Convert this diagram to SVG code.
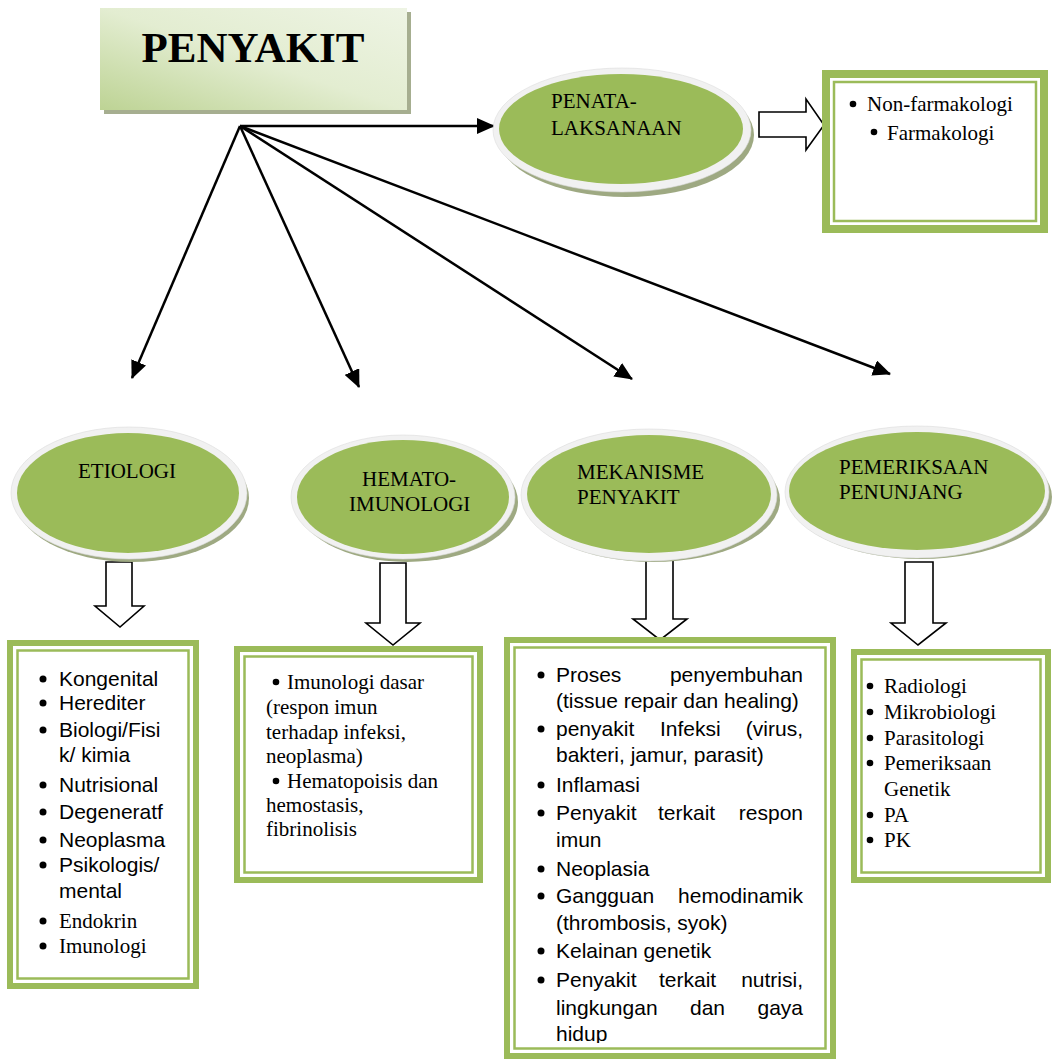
<svg xmlns="http://www.w3.org/2000/svg" width="1059" height="1061" viewBox="0 0 1059 1061">
<defs>
<style>
.sans{font-family:"Liberation Sans",Arial,sans-serif;font-size:21px;fill:#000}
.serif{font-family:"Liberation Serif","Times New Roman",serif;font-size:21px;fill:#000}
.ell{font-family:"Liberation Serif","Times New Roman",serif;font-size:21px;fill:#000}
.shadow{fill:#9ea982}
.ring{fill:#f1f1f1;stroke:#dcdcdc;stroke-width:0.6}
.green{fill:#9bbb59}
.bo{fill:#9bbb59}
.bw{fill:#fff}
.bl{fill:none;stroke:#9bbb59;stroke-width:2.5}
.conn{stroke:#000;stroke-width:2.5;fill:none}
.blk{fill:#fff;stroke:#000;stroke-width:1.6;stroke-linejoin:miter}
.dot{fill:#000}
</style>
<linearGradient id="gHead" x1="0" y1="1" x2="1" y2="0">
<stop offset="0" stop-color="#bdd394"/>
<stop offset="0.5" stop-color="#e3edd1"/>
<stop offset="1" stop-color="#eef4e4"/>
</linearGradient>
<marker id="ah" markerUnits="userSpaceOnUse" markerWidth="18" markerHeight="16" refX="17" refY="8" orient="auto">
<path d="M0,0 L18,8 L0,16 z" fill="#000"/>
</marker>
<clipPath id="clipMek"><rect x="504" y="637" width="332" height="406"/></clipPath>
</defs>
<rect width="1059" height="1061" fill="#fff"/>

<g id="penyakit">
<rect x="104" y="12" width="307" height="102" fill="#a6ae90"/>
<rect x="100" y="8" width="307" height="102" fill="url(#gHead)"/>
<text x="253" y="62" text-anchor="middle" style="font-family:'Liberation Serif','Times New Roman',serif;font-size:43px;font-weight:bold">PENYAKIT</text>
</g>

<g id="connectors">
<line class="conn" x1="240" y1="126" x2="494" y2="126" marker-end="url(#ah)"/>
<line class="conn" x1="240" y1="126" x2="132" y2="378" marker-end="url(#ah)"/>
<line class="conn" x1="240" y1="126" x2="359" y2="387" marker-end="url(#ah)"/>
<line class="conn" x1="240" y1="126" x2="632" y2="379" marker-end="url(#ah)"/>
<line class="conn" x1="240" y1="126" x2="890" y2="374" marker-end="url(#ah)"/>
<polygon class="blk" points="759,112 806,112 806,99 824,125 806,150 806,137 759,137"/>
<polygon class="blk" points="106,562 132,562 132,606 144,606 120,627 95,606 106,606"/>
<polygon class="blk" points="380,563 406,563 406,623 420,623 393,645 366,623 380,623"/>
<polygon class="blk" points="646,557 673,557 673,619 687,619 660,640 633,619 646,619"/>
<polygon class="blk" points="905,562 933,562 933,623 946,623 918,645 891,623 905,623"/>
</g>

<g id="penata">
<ellipse class="shadow" cx="626" cy="135" rx="128" ry="62"/>
<ellipse class="ring" cx="622" cy="130" rx="129" ry="62"/>
<ellipse class="green" cx="621" cy="129" rx="122" ry="55"/>
<text class="ell" x="551" y="108">PENATA-</text>
<text class="ell" x="551" y="135">LAKSANAAN</text>
</g>

<g id="penata-box">
<rect class="bo" x="822" y="70" width="226" height="163"/>
<rect class="bw" x="830" y="78" width="210" height="147"/>
<rect class="bl" x="834" y="82" width="202" height="139"/>
<circle class="dot" cx="853" cy="104" r="3.3"/>
<text class="serif" x="867" y="111">Non-farmakologi</text>
<circle class="dot" cx="874" cy="132" r="3.3"/>
<text class="serif" x="887" y="140">Farmakologi</text>
</g>

<g id="etiologi">
<ellipse class="shadow" cx="132" cy="498" rx="117" ry="64"/>
<ellipse class="ring" cx="129" cy="493" rx="118" ry="66"/>
<ellipse class="green" cx="128" cy="493" rx="111" ry="60"/>
<text class="ell" x="78" y="478">ETIOLOGI</text>
</g>

<g id="hemato">
<ellipse class="shadow" cx="407" cy="502" rx="111" ry="60"/>
<ellipse class="ring" cx="403" cy="497" rx="112" ry="62"/>
<ellipse class="green" cx="403" cy="497" rx="106" ry="57"/>
<text class="ell" x="362" y="486">HEMATO-</text>
<text class="ell" x="349" y="511">IMUNOLOGI</text>
</g>

<g id="mekanisme">
<ellipse class="shadow" cx="653" cy="500" rx="127" ry="62"/>
<ellipse class="ring" cx="649" cy="495" rx="128" ry="66"/>
<ellipse class="green" cx="649" cy="494" rx="122" ry="59"/>
<text class="ell" x="577" y="479">MEKANISME</text>
<text class="ell" x="577" y="504">PENYAKIT</text>
</g>

<g id="pemeriksaan">
<ellipse class="shadow" cx="921" cy="497" rx="131" ry="62"/>
<ellipse class="ring" cx="917" cy="492" rx="132" ry="66"/>
<ellipse class="green" cx="917" cy="491" rx="128" ry="59"/>
<text class="ell" x="839" y="474">PEMERIKSAAN</text>
<text class="ell" x="839" y="499">PENUNJANG</text>
</g>

<g id="etiologi-box">
<rect class="bo" x="7" y="640" width="192" height="349"/>
<rect class="bw" x="13" y="646" width="180" height="337"/>
<rect class="bl" x="17.5" y="650.5" width="171" height="328"/>
<circle class="dot" cx="43" cy="679" r="3.5"/><text class="sans" x="59" y="686">Kongenital</text>
<circle class="dot" cx="43" cy="703" r="3.5"/><text class="sans" x="59" y="710">Herediter</text>
<circle class="dot" cx="43" cy="730" r="3.5"/><text class="sans" x="59" y="737">Biologi/Fisi</text>
<text class="sans" x="59" y="762">k/ kimia</text>
<circle class="dot" cx="43" cy="785" r="3.5"/><text class="sans" x="59" y="792">Nutrisional</text>
<circle class="dot" cx="43" cy="812" r="3.5"/><text class="sans" x="59" y="819">Degeneratf</text>
<circle class="dot" cx="43" cy="840" r="3.5"/><text class="sans" x="59" y="847">Neoplasma</text>
<circle class="dot" cx="43" cy="865" r="3.5"/><text class="sans" x="59" y="872">Psikologis/</text>
<text class="sans" x="59" y="898">mental</text>
<circle class="dot" cx="43" cy="921" r="3.5"/><text class="serif" x="59" y="928">Endokrin</text>
<circle class="dot" cx="43" cy="946" r="3.5"/><text class="serif" x="59" y="953">Imunologi</text>
</g>

<g id="hemato-box">
<rect class="bo" x="234" y="646" width="249" height="237"/>
<rect class="bw" x="240" y="652" width="237" height="225"/>
<rect class="bl" x="244.5" y="656.5" width="228" height="216"/>
<circle class="dot" cx="276" cy="682" r="3.3"/><text class="serif" x="287" y="689">Imunologi dasar</text>
<text class="serif" x="266" y="714">(respon imun</text>
<text class="serif" x="266" y="739">terhadap infeksi,</text>
<text class="serif" x="266" y="763">neoplasma)</text>
<circle class="dot" cx="276" cy="781" r="3.3"/><text class="serif" x="287" y="788">Hematopoisis dan</text>
<text class="serif" x="266" y="812">hemostasis,</text>
<text class="serif" x="266" y="836">fibrinolisis</text>
</g>

<g id="mekanisme-box">
<rect class="bo" x="504" y="637" width="332" height="422"/>
<rect class="bw" x="510" y="643" width="320" height="410"/>
<rect class="bl" x="514.5" y="647.5" width="311" height="401"/>
<g clip-path="url(#clipMek)">
<circle class="dot" cx="541" cy="675" r="3.5"/>
<text class="sans" x="556" y="682">Proses</text><text class="sans" x="803" y="682" text-anchor="end">penyembuhan</text>
<text class="sans" x="556" y="708">(tissue repair dan healing)</text>
<circle class="dot" cx="541" cy="729" r="3.5"/>
<text class="sans" x="556" y="736">penyakit</text><text class="sans" x="660" y="736">Infeksi</text><text class="sans" x="803" y="736" text-anchor="end">(virus,</text>
<text class="sans" x="556" y="762">bakteri, jamur, parasit)</text>
<circle class="dot" cx="541" cy="785" r="3.5"/>
<text class="sans" x="556" y="792">Inflamasi</text>
<circle class="dot" cx="541" cy="813" r="3.5"/>
<text class="sans" x="556" y="820">Penyakit</text><text class="sans" x="658" y="820">terkait</text><text class="sans" x="803" y="820" text-anchor="end">respon</text>
<text class="sans" x="556" y="847">imun</text>
<circle class="dot" cx="541" cy="869" r="3.5"/>
<text class="sans" x="556" y="876">Neoplasia</text>
<circle class="dot" cx="541" cy="896" r="3.5"/>
<text class="sans" x="556" y="903">Gangguan</text><text class="sans" x="803" y="903" text-anchor="end">hemodinamik</text>
<text class="sans" x="556" y="930">(thrombosis, syok)</text>
<circle class="dot" cx="541" cy="951" r="3.5"/>
<text class="sans" x="556" y="958">Kelainan genetik</text>
<circle class="dot" cx="541" cy="980" r="3.5"/>
<text class="sans" x="556" y="987">Penyakit</text><text class="sans" x="659" y="987">terkait</text><text class="sans" x="803" y="987" text-anchor="end">nutrisi,</text>
<text class="sans" x="556" y="1015">lingkungan</text><text class="sans" x="690" y="1015">dan</text><text class="sans" x="803" y="1015" text-anchor="end">gaya</text>
<text class="sans" x="556" y="1041">hidup</text>
</g>
</g>

<g id="pemeriksaan-box">
<rect class="bo" x="851" y="649" width="200" height="234"/>
<rect class="bw" x="857" y="655" width="188" height="222"/>
<rect class="bl" x="861.5" y="659.5" width="179" height="213"/>
<circle class="dot" cx="870" cy="686" r="3.3"/><text class="serif" x="884" y="693">Radiologi</text>
<circle class="dot" cx="870" cy="712" r="3.3"/><text class="serif" x="884" y="719">Mikrobiologi</text>
<circle class="dot" cx="870" cy="738" r="3.3"/><text class="serif" x="884" y="745">Parasitologi</text>
<circle class="dot" cx="870" cy="763" r="3.3"/><text class="serif" x="884" y="770">Pemeriksaan</text>
<text class="serif" x="884" y="796">Genetik</text>
<circle class="dot" cx="870" cy="815" r="3.3"/><text class="serif" x="884" y="822">PA</text>
<circle class="dot" cx="870" cy="840" r="3.3"/><text class="serif" x="884" y="847">PK</text>
</g>
</svg>
